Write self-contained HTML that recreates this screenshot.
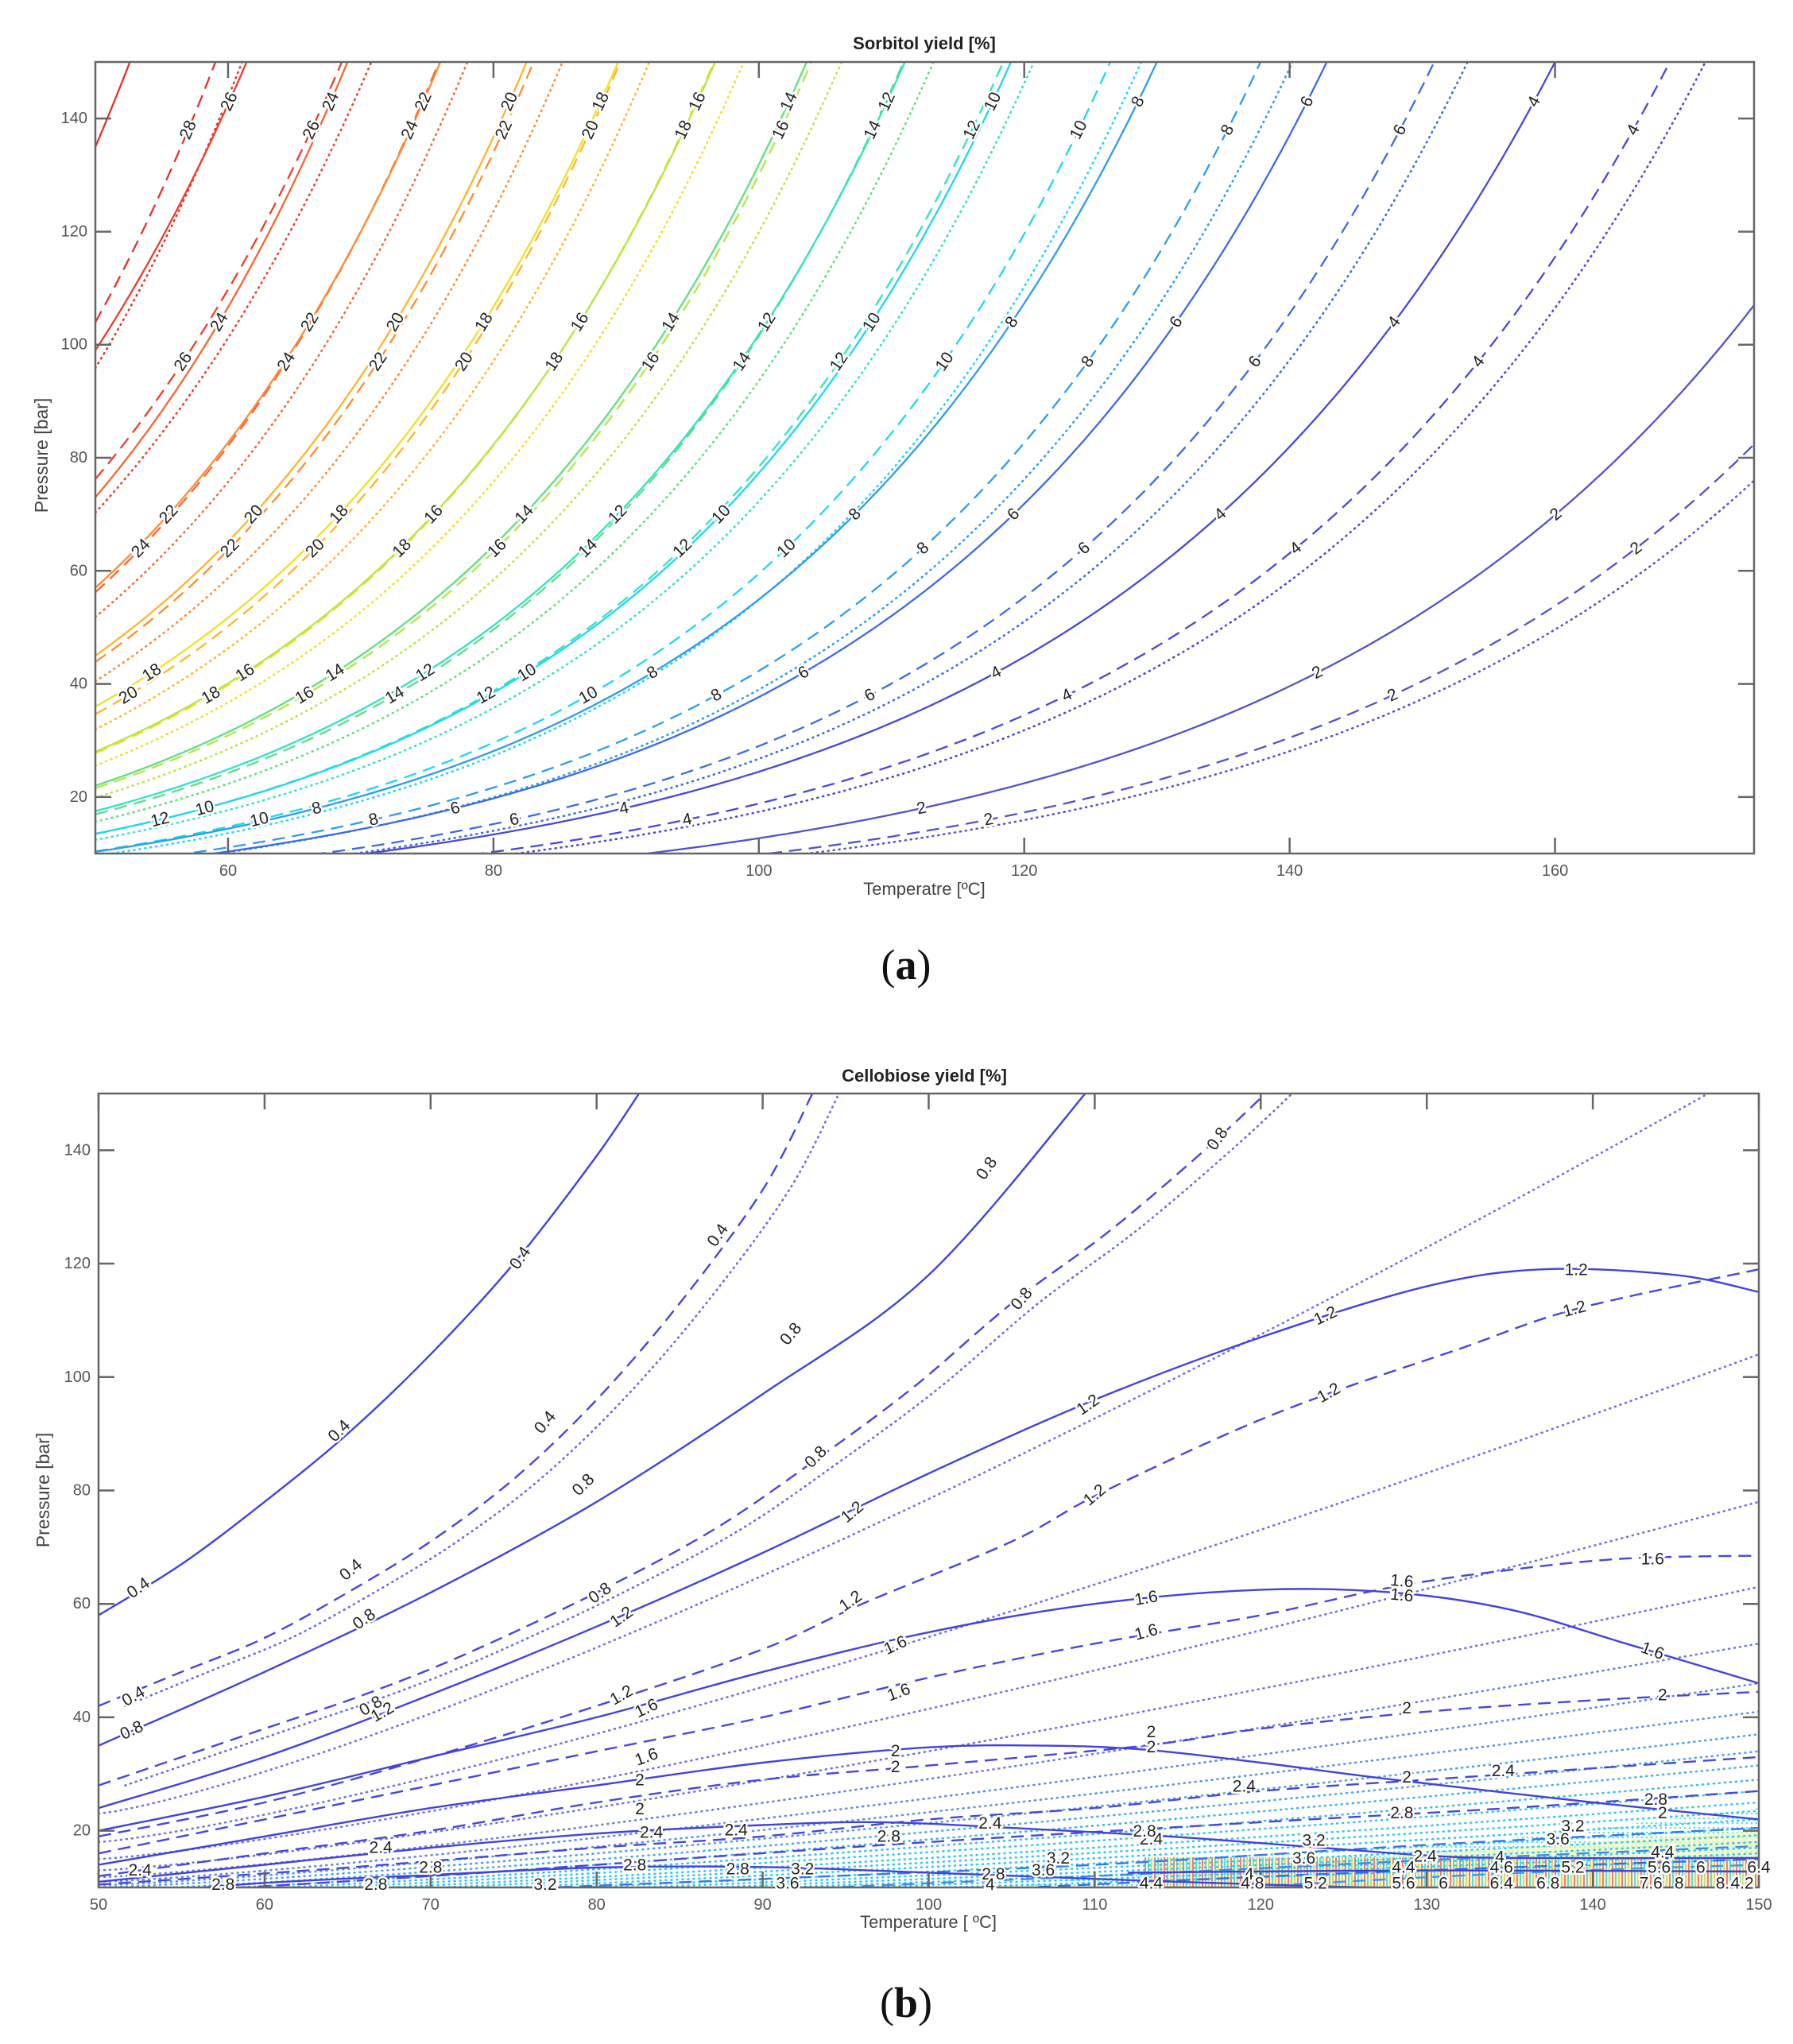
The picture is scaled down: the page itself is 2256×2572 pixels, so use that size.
<!DOCTYPE html>
<html><head><meta charset="utf-8">
<style>
html,body{margin:0;padding:0;background:#fff;}
svg{display:block;}
text{font-family:"Liberation Sans",Arial,sans-serif;}
</style></head>
<body>
<svg id="s" width="2256" height="2572" viewBox="0 0 2256 2572" xmlns="http://www.w3.org/2000/svg">
<defs>
<clipPath id="ca"><rect x="120" y="78" width="2087" height="996"/></clipPath>
<clipPath id="cb"><rect x="124" y="1376" width="2089" height="999"/></clipPath>
<pattern id="hatch" width="12" height="10" patternUnits="userSpaceOnUse">
<rect width="12" height="10" fill="#f4f8c8"/>
<rect x="0" width="2" height="10" fill="#ff6a6a"/>
<rect x="4" width="2" height="10" fill="#40dce8"/>
<rect x="8" width="2" height="10" fill="#f0c860"/>
</pattern>
<pattern id="dots" width="6" height="6" patternUnits="userSpaceOnUse">
<circle cx="2" cy="2" r="1.3" fill="#50d8f0"/>
</pattern>
</defs>
<rect width="2256" height="2572" fill="#fff"/>
<g id="ga" clip-path="url(#ca)"></g>
<g id="gb" clip-path="url(#cb)"></g>
<g id="axes"></g>
<g id="labs"></g>
<text x="1163" y="62" font-size="22" font-weight="bold" text-anchor="middle" fill="#222">Sorbitol yield [%]</text>
<text x="1163" y="1126" font-size="22" text-anchor="middle" fill="#444">Temperatre [ºC]</text>
<text transform="translate(60,573) rotate(-90)" font-size="23" text-anchor="middle" fill="#444">Pressure [bar]</text>
<text x="1140" y="1232" font-size="54" text-anchor="middle" fill="#111" style="font-family:'Liberation Serif',serif">(<tspan font-weight="bold">a</tspan>)</text>
<text x="1163" y="1361" font-size="22" font-weight="bold" text-anchor="middle" fill="#222">Cellobiose yield [%]</text>
<text x="1168" y="2426" font-size="22" text-anchor="middle" fill="#444">Temperature [ ºC]</text>
<text transform="translate(62,1875) rotate(-90)" font-size="23" text-anchor="middle" fill="#444">Pressure [bar]</text>
<text x="1140" y="2538" font-size="54" text-anchor="middle" fill="#111" style="font-family:'Liberation Serif',serif">(<tspan font-weight="bold">b</tspan>)</text>
</svg>
<script>
(function(){
var NS="http://www.w3.org/2000/svg";
function el(tag,attrs,parent,txt){var e=document.createElementNS(NS,tag);for(var k in attrs)e.setAttribute(k,attrs[k]);if(txt!==undefined)e.textContent=txt;parent.appendChild(e);return e;}
var ga=document.getElementById('ga'),gb=document.getElementById('gb'),ax=document.getElementById('axes'),labs=document.getElementById('labs');
function XA(T){return 120+(T-50)*16.696;} function YA(P){return 1074-(P-10)*7.114;}
function XB(T){return 124+(T-50)*20.89;} function YB(P){return 2375-(P-10)*7.136;}
var dashS="16 9", dotS="1 6";
function style(kind){if(kind==='s')return{};if(kind==='d')return{'stroke-dasharray':dashS};return{'stroke-dasharray':dotS,'stroke-linecap':'round'};}
function label(x,y,ang,t,fs){el('text',{x:x,y:y,'font-size':fs||21,'text-anchor':'middle','dominant-baseline':'central',fill:'#222',stroke:'#fff','stroke-width':5,'paint-order':'stroke',transform:'rotate('+ang+' '+x+' '+y+')'},labs,t);}
// ---- Plot a ----
var A=[[28,135,52.6,'#e8302a'],[26,99,61.4,'#f03c2c'],[24,73,69,'#f86432'],[22,57,76,'#ff8a30'],[20,45,82.5,'#ffb428'],[18,36,89.4,'#f0e020'],[16,28,96.7,'#b4e840'],[14,22,103.6,'#5ee080'],[12,17.5,111,'#2ee4c4'],[10,13.5,119,'#1cd8f0'],[8,10.3,130,'#2c9cf0'],[6,7.5,142.8,'#3c6ae8'],[4,5.4,160,'#4848d8'],[2,3.07,null,'#5252cc']];
var kinds=[['s',1,[18,42,70,104,143]],['d',0.77,[16,38,64,97,138]],['o',0.71,[]]];
A.forEach(function(a){
 var v=a[0],P50=a[1],k=a[2]?Math.log(150/P50)/(a[2]-50):Math.log(107/3.07)/125,col=a[3];
 kinds.forEach(function(kd){
  var f=kd[1],d='';
  for(var T=50;T<=175.01;T+=0.5){var P=P50*f*Math.exp(k*(T-50));d+=(d?'L':'M')+XA(T).toFixed(1)+' '+YA(P).toFixed(1);if(P>152)break;}
  var at={d:d,fill:'none',stroke:col,'stroke-width':kd[0]==='o'?2.6:2.3};var st=style(kd[0]);for(var s in st)at[s]=st[s];
  el('path',at,ga);
  kd[2].forEach(function(Pt){
   var T=50+Math.log(Pt/(P50*f))/k;
   if(T>51.5&&T<173.5){var sl=-(k*Pt*7.114)/16.696;var ang=Math.atan(sl)*180/Math.PI;label(XA(T),YA(Pt),ang,String(v));}
  });
 });
});
// ---- Plot b ----
function cr(pts,X,Y){var p=pts.map(function(q){return[X(q[0]),Y(q[1])];});var d='M'+p[0][0].toFixed(1)+' '+p[0][1].toFixed(1);
 for(var i=0;i<p.length-1;i++){var p0=p[i-1]||p[i],p1=p[i],p2=p[i+1],p3=p[i+2]||p2;
 var c1=[p1[0]+(p2[0]-p0[0])/6,p1[1]+(p2[1]-p0[1])/6],c2=[p2[0]-(p3[0]-p1[0])/6,p2[1]-(p3[1]-p1[1])/6];
 d+='C'+c1[0].toFixed(1)+' '+c1[1].toFixed(1)+' '+c2[0].toFixed(1)+' '+c2[1].toFixed(1)+' '+p2[0].toFixed(1)+' '+p2[1].toFixed(1);}return d;}
el('path',{d:cr([[100,9],[115,13],[130,17],[150,24]],XB,YB)+'L'+XB(151)+' '+YB(9)+'Z',fill:'url(#dots)',opacity:0.9},gb);
el('path',{d:'M'+XB(112)+' '+YB(9)+'L'+XB(120)+' '+YB(14)+'L'+XB(150)+' '+YB(20)+'L'+XB(151)+' '+YB(9)+'Z',fill:'#eef8b8',opacity:0.7},gb);
el('rect',{x:XB(113),y:YB(15.3),width:XB(150)-XB(113),height:YB(9.5)-YB(15.3),fill:'url(#hatch)',opacity:0.9},gb);
var DOT=[[23,155],[18,104],[15,78],[13,63],[11.8,53],[11,46],[10.4,41],[10,37],[9.5,34],[9,31.5],[8.7,29],[8.4,27],[8.1,25],[7.8,23.5],[7.5,22],[7.2,20.5],[7,19.2],[6.8,18],[6.6,17],[6.4,16],[6.2,15]];
DOT.forEach(function(q,i){var d='';for(var T=50;T<=150.01;T+=1){var u=(T-50)/100;var P=q[0]+(q[1]-q[0])*Math.pow(u,1.25);d+=(d?'L':'M')+XB(T).toFixed(1)+' '+YB(P).toFixed(1);}
 var t=Math.min(1,Math.max(0,(i-3)/8));var r=Math.round(0x70+(0x30-0x70)*t),g=Math.round(0x70+(0xc8-0x70)*t),b=Math.round(0xe8+(0xf0-0xe8)*t);
 el('path',{d:d,fill:'none',stroke:'rgb('+r+','+g+','+b+')','stroke-width':2.6,'stroke-dasharray':dotS,'stroke-linecap':'round'},gb);});
var SOL=[
[[50,58],[55,67],[60,78],[65,90],[70,104],[75,120],[80,139],[83,152]],
[[50,35],[60,48],[70,62],[80,78],[90,97],[100,118],[110,152]],
[[50,24],[60,33],[70,44],[80,56],[90,69],[100,83],[110,96],[120,107],[130,116],[137,119],[145,118],[150,115]],
[[50,20],[60,26],[70,33],[80,40],[90,48],[100,55],[110,60],[120,62.5],[128,62],[135,59],[142,53],[150,46]],
[[50,14],[60,19],[70,24],[80,28],[90,32],[100,34.7],[107,35],[113,34.3],[120,32],[128,29],[140,25],[150,22]],
[[50,11],[60,14],[70,17],[80,19.5],[90,21],[97,21.5],[105,20.5],[116,18.7],[128.6,15.9],[135,15.2],[150,15.2]],
[[50,8.5],[60,10.8],[70,12.2],[80,13.5],[90,13.6],[100,12.6],[115,11],[130,9.8],[150,9.5]]];
var DSH=[
[[50,42],[55,48],[60,54],[65,62],[70,71],[75,82],[80,96],[85,113],[90,133],[93,150]],
[[50,28],[60,38],[66,44],[72,51],[80,62],[87,73],[93,85],[99,98],[105,113],[111,126],[117,141],[121,152]],
[[50,19],[60,25],[70,33],[80,42],[90,52],[96,60],[105,71],[110,79],[118,90],[124,97],[132,105],[139,112],[150,119]],
[[50,16],[60,22],[70,28],[80,34],[90,40],[100,47],[110,53],[120,58],[128,63],[135,66],[142,68],[150,68.5]],
[[50,12],[60,16],[70,20],[80,25],[90,29],[100,31.5],[113,35],[120,38],[130,41],[140,43],[150,44.5]],
[[50,10.5],[65,13.5],[80,17],[90,19],[100,22],[110,24],[120,27],[130,29],[140,31],[150,33]],
[[56,9.5],[70,12],[80,14],[100,18],[120,21.5],[135,24],[150,27]]];
var DSH2=[
[[73,9.5],[90,11.5],[110,14],[130,17.5],[150,20.5],'#3278f0'],
[[90,9.5],[110,12],[130,14.8],[150,17.3],'#3a8cf0'],
[[103,9.6],[125,12.5],[150,15],'#2c6ef0'],
[[116,9.6],[135,12.5],[150,14],'#3a9af0']];
[DSH[0],DSH[1]].forEach(function(p){var q=p.map(function(a){return[a[0]+1.6,a[1]];});el('path',{d:cr(q,XB,YB),fill:'none',stroke:'#6a6ae6','stroke-width':2.6,'stroke-dasharray':dotS,'stroke-linecap':'round'},gb);});
DSH.forEach(function(p){el('path',{d:cr(p,XB,YB),fill:'none',stroke:'#4646e0','stroke-width':2.4,'stroke-dasharray':dashS},gb);});
DSH2.forEach(function(p){var c=p.pop();el('path',{d:cr(p,XB,YB),fill:'none',stroke:c,'stroke-width':2.4,'stroke-dasharray':dashS},gb);});
SOL.forEach(function(p){el('path',{d:cr(p,XB,YB),fill:'none',stroke:'#4242e0','stroke-width':2.4},gb);});
el('path',{d:cr([[112,12.6],[130,13],[150,12.8]],XB,YB),fill:'none',stroke:'#4040e0','stroke-width':2.4},gb);
var LB=[
['0.4',52.4,62.8,-35],['0.4',64.5,90.5,-45],['0.4',75.4,121,-55],['0.4',87.3,125,-55],['0.4',76.9,92,-50],['0.4',65.2,66,-40],['0.4',52.1,43.7,-30],
['0.8',52,37.7,-25],['0.8',66,57.3,-35],['0.8',79.2,81,-45],['0.8',91.7,107.6,-50],['0.8',103.5,136.8,-55],['0.8',117.4,142,-55],['0.8',105.6,113.8,-50],['0.8',93.2,85.9,-45],['0.8',80.2,61.9,-35],['0.8',66.4,42,-30],
['1.2',67.1,40.9,-30],['1.2',81.5,57.7,-35],['1.2',81.5,43.9,-30],['1.2',95.3,60.5,-35],['1.2',95.4,76.2,-40],['1.2',109.6,95.1,-35],['1.2',110,79.2,-40],['1.2',124.1,97.2,-30],['1.2',123.9,110.8,-25],['1.2',138.9,112,-15],['1.2',139,118.9,0],
['1.6',83,41.6,-25],['1.6',83,33,-20],['1.6',98,52.7,-25],['1.6',98.2,44.4,-20],['1.6',113.1,61,-10],['1.6',113.1,55,-15],['1.6',128.5,64,5],['1.6',128.5,61.5,5],['1.6',143.6,67.9,0],['1.6',143.6,51.7,20],
['2',98,34,0],['2',98,31.2,0],['2',82.6,28.9,0],['2',82.6,23.8,0],['2',113.4,37.4,0],['2',113.4,34.7,0],['2',128.8,41.6,0],['2',128.8,29.4,0],['2',144.2,43.9,0],['2',144.2,23.1,0],
['2.4',83.3,19.7,0],['2.4',88.4,20.1,0],['2.4',103.7,21.3,0],['2.4',119,27.8,0],['2.4',134.6,30.5,0],['2.4',113.4,18.5,0],['2.4',129.9,15.5,0],['2.4',67,17,0],['2.4',52.5,13,0],
['2.8',82.3,13.9,0],['2.8',88.5,13.2,0],['2.8',97.6,19,0],['2.8',113,19.9,0],['2.8',128.5,23.1,0],['2.8',143.8,25.5,0],['2.8',103.9,12.3,0],['2.8',66.7,10.5,0],['2.8',57.5,10.5,0],['2.8',70,13.5,0],
['3.2',76.9,10.5,0],['3.2',92.4,13.2,0],['3.2',107.8,15.1,0],['3.2',123.2,18.3,0],['3.2',138.8,20.8,0],
['3.6',91.5,10.7,0],['3.6',106.9,13,0],['3.6',122.6,15.1,0],['3.6',137.9,18.5,0],
['4',103.7,10.5,0],['4',119.3,12.3,0],['4',134.4,15.3,0],['4.4',113.4,10.7,0],['4.4',128.6,13.5,0],['4.4',144.2,16.2,0],
['4.8',119.5,10.7,0],['4.6',134.5,13.5,0],['5.2',123.3,10.7,0],['5.2',138.8,13.5,0],['5.6',128.6,10.7,0],['5.6',144,13.5,0],['6',131,10.7,0],['6',146.5,13.5,0],
['6.4',134.5,10.7,0],['6.4',150,13.5,0],['6.8',137.3,10.7,0],['7.6',143.5,10.7,0],['8',145.2,10.7,0],['8.4',148.1,10.7,0],['4.2',149,10.7,0]];
LB.forEach(function(l){label(XB(l[1]),YB(l[2]),l[3],l[0],21);});
function frame(x0,y0,x1,y1){el('rect',{x:x0,y:y0,width:x1-x0,height:y1-y0,fill:'none',stroke:'#666','stroke-width':2.5},ax);}
frame(120,78,2207,1074);frame(124,1376,2213,2375);
function tk(x1,y1,x2,y2){el('line',{x1:x1,y1:y1,x2:x2,y2:y2,stroke:'#666','stroke-width':2.5},ax);}
function tl(x,y,t,anc){el('text',{x:x,y:y,'font-size':20,'text-anchor':anc,'dominant-baseline':'central',fill:'#555'},ax,t);}
for(var T=60;T<=160;T+=20){var x=XA(T);tk(x,1074,x,1054);tk(x,78,x,98);tl(x,1096,String(T),'middle');}
for(var P=20;P<=140;P+=20){var y=YA(P);tk(120,y,140,y);tk(2207,y,2187,y);tl(110,y,String(P),'end');}
for(var T=50;T<=150;T+=10){var x=XB(T);tk(x,2375,x,2355);tk(x,1376,x,1396);tl(x,2397,String(T),'middle');}
for(var P=20;P<=140;P+=20){var y=YB(P);tk(124,y,144,y);tk(2213,y,2193,y);tl(114,y,String(P),'end');}
})();
</script>
</body></html>
